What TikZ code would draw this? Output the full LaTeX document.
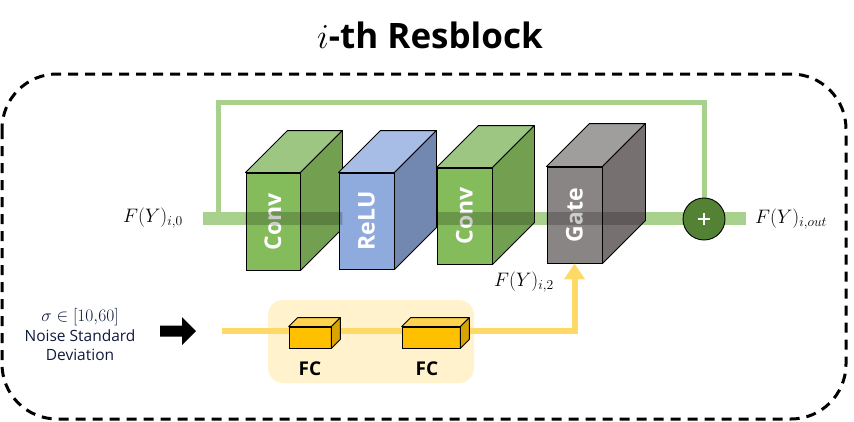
\RequirePackage{fix-cm}
\documentclass[tikz,border=0pt]{standalone}
\usepackage{fontspec}
\setmainfont{Open Sans}
\usetikzlibrary{arrows.meta}
\definecolor{mainline}{HTML}{A9D18E}
\definecolor{convF}{HTML}{84BC5C}
\definecolor{convT}{HTML}{9DC683}
\definecolor{convS}{HTML}{72A050}
\definecolor{reluF}{HTML}{8FAADC}
\definecolor{reluT}{HTML}{A8BDE6}
\definecolor{reluS}{HTML}{7388B0}
\definecolor{gateF}{HTML}{898584}
\definecolor{gateT}{HTML}{A09E9D}
\definecolor{gateS}{HTML}{767170}
\definecolor{sumF}{HTML}{548235}
\definecolor{yline}{HTML}{FFD966}
\definecolor{ybg}{HTML}{FFF2CC}
\definecolor{fcF}{HTML}{FFC000}
\definecolor{fcT}{HTML}{FFD34D}
\definecolor{fcS}{HTML}{D9A300}
\definecolor{noisetext}{HTML}{101A3C}
\newcommand\cuboid[4]{%
  \draw[cubeedge,fill=#2] (#1.north west) -- ++(#4,-#4) -- ([shift={(#4,-#4)}]#1.north east) -- (#1.north east) -- cycle;
  \draw[cubeedge,fill=#3] (#1.north east) -- ++(#4,-#4) -- ([shift={(#4,-#4)}]#1.south east) -- (#1.south east) -- cycle;
}
\newcommand\cubeband[2]{%
  \begin{scope}
    \clip (#1.south west) rectangle (#1.north east)
          (#1.north east) -- ++(#2,-#2) -- ([shift={(#2,-#2)}]#1.south east) -- (#1.south east) -- cycle;
    \fill[black,opacity=0.2] (0,211.5) rectangle (854,224.5);
  \end{scope}
}
\begin{document}
\begin{tikzpicture}[x=1pt,y=-1pt,
  cubeedge/.style={draw=black,line width=0.9pt,line join=round},
  bigbox/.style={draw=black,line width=0.9pt,minimum width=55pt,minimum height=96pt,inner sep=0pt,
     text=white,font=\fontsize{23}{26}\selectfont\bfseries},
  fcbox/.style={draw=black,line width=0.7pt,fill=fcF,minimum height=21pt,inner sep=0pt},
  lbl/.style={font=\fontsize{19.5}{22}\selectfont,inner sep=0pt},
  skipline/.style={draw=mainline,line width=5pt},
  mline/.style={draw=mainline,line width=13pt},
  ylinest/.style={draw=yline,line width=6pt}]
\useasboundingbox (0,0) rectangle (854,421);

% border
\draw[line width=3pt,dash pattern=on 10pt off 7pt,rounded corners=55pt] (2,74) rectangle (846,419);

% title
\node[inner sep=0pt,font=\fontsize{35}{40}\selectfont\bfseries] (title) at (430,35) {$i$-th Resblock};

% main path coordinates
\coordinate (mstart) at (203,218);
\coordinate (mend) at (746,218);
\coordinate (skipA) at (218,218);
\coordinate (skipB) at (218,102);
\node[circle,minimum size=42pt,inner sep=0pt] (sum) at (704,219) {};

\draw[skipline] (skipA) -- (skipB) -| (sum.north);
\draw[mline] (mstart) -- (mend);
\node[circle,draw=black,line width=0.9pt,fill=sumF,minimum size=42pt,inner sep=0pt] (sumc) at (704,219) {};
\draw[white,line width=2.2pt] ([xshift=-6pt]sumc.center) -- ([xshift=6pt]sumc.center);
\draw[white,line width=2.2pt] ([yshift=-6pt]sumc.center) -- ([yshift=6pt]sumc.center);

% blocks
\node[bigbox,fill=convF,minimum width=54pt,minimum height=97pt] (conv1) at (273,221.5) {\rotatebox{90}{Conv}};
\cuboid{conv1}{convT}{convS}{42}
\node[bigbox,fill=reluF] (relu) at (366.5,221) {\rotatebox{90}{ReLU}};
\cuboid{relu}{reluT}{reluS}{42}
\node[bigbox,fill=convF] (conv2) at (464.5,216) {\rotatebox{90}{Conv}};
\cuboid{conv2}{convT}{convS}{42}
\node[bigbox,fill=gateF] (gate) at (574.5,215) {\rotatebox{90}{Gate}};
\cuboid{gate}{gateT}{gateS}{43}
\cubeband{conv1}{42}
\cubeband{conv2}{42}
\cubeband{gate}{43}

% labels
\node[lbl,anchor=east] (fin) at (183,218) {$F(Y)_{i,0}$};
\node[lbl,anchor=west] (fout) at (755,219) {$F(Y)_{i,out}$};
\node[lbl] (f2) at (524,282) {$F(Y)_{i,2}$};

% noise branch
\node[fill=ybg,rounded corners=15pt,minimum width=206pt,minimum height=83pt,inner sep=0pt] (fcbg) at (371,341.5) {};
\coordinate (ystart) at (222,331);
\draw[ylinest,-{Triangle[width=20pt,length=16pt]}] (ystart) -| (gate.south);
\node[fcbox,minimum width=42pt] (fc1) at (310,337.5) {};
\cuboid{fc1}{fcT}{fcS}{9}
\node[fcbox,minimum width=58pt] (fc2) at (431,337.5) {};
\cuboid{fc2}{fcT}{fcS}{9}
\node[font=\fontsize{19}{22}\selectfont\bfseries,inner sep=0pt] (fc1l) at (310,369) {FC};
\node[font=\fontsize{19}{22}\selectfont\bfseries,inner sep=0pt] (fc2l) at (427,369) {FC};

% black input arrow
\fill[black] (160,325.5) -- (182,325.5) -- (182,317) -- (196,331) -- (182,345) -- (182,336.5) -- (160,336.5) -- cycle;

% sigma text
\node[align=center,inner sep=0pt,text=noisetext,font=\fontsize{15.5}{19.5}\selectfont] (sigma) at (80,335)
  {\fontsize{17.5}{19.5}\selectfont$\sigma\in[10{,}60]$\\Noise Standard\\Deviation};
\end{tikzpicture}
\end{document}
